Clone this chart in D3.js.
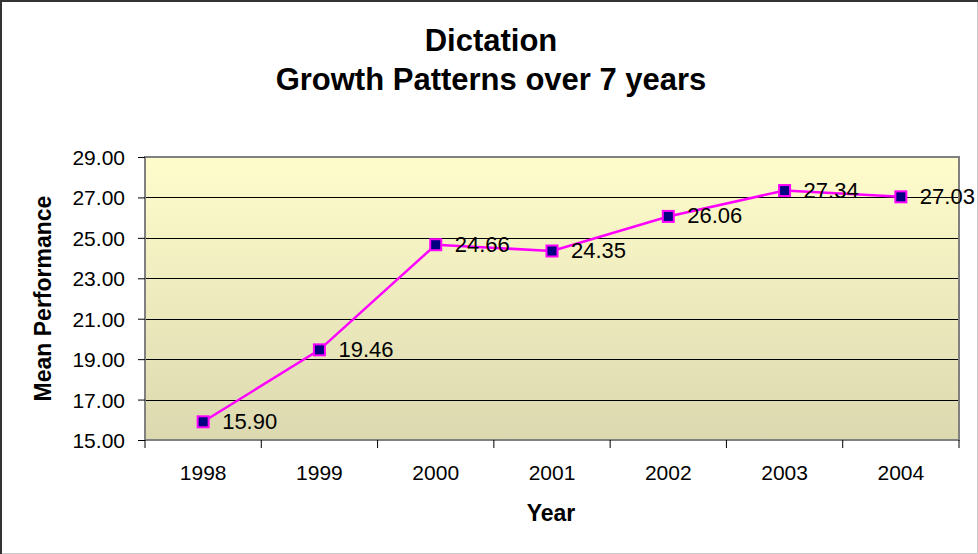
<!DOCTYPE html>
<html>
<head>
<meta charset="utf-8">
<script src="https://cdn.jsdelivr.net/npm/d3@7/dist/d3.min.js"></script>
<style>
  html, body { margin: 0; padding: 0; background: #fff; }
  svg { display: block; font-family: Arial, "Liberation Sans", sans-serif; }
</style>
</head>
<body>
<svg id="chart" width="978" height="554"></svg>
<script>
// Mean dictation performance by year
const years = ["1998", "1999", "2000", "2001", "2002", "2003", "2004"];
const means = [15.90, 19.46, 24.66, 24.35, 26.06, 27.34, 27.03];
const yTicks = [15, 17, 19, 21, 23, 25, 27, 29];
const titleLines = ["Dictation", "Growth Patterns over 7 years"];

const svg = d3.select("#chart");
const W = 978, H = 554;
const plot = { left: 145, top: 157, right: 959, bottom: 440 };
const FONT = "Arial, 'Liberation Sans', sans-serif";

// outer frame
svg.append("rect").attr("x", 0.5).attr("y", 0.5).attr("width", W - 1).attr("height", H - 1)
  .attr("fill", "#fff").attr("stroke", "#c8c8c8").attr("stroke-width", 1);
svg.append("path").attr("d", `M1,${H} V1 H${W}`)
  .attr("fill", "none").attr("stroke", "#333").attr("stroke-width", 2);

// plot background gradient
const defs = svg.append("defs");
const grad = defs.append("linearGradient").attr("id", "bg").attr("x1", 0).attr("y1", 0).attr("x2", 0).attr("y2", 1);
grad.append("stop").attr("offset", "0%").attr("stop-color", "#fffccc");
grad.append("stop").attr("offset", "100%").attr("stop-color", "#dcd9b0");

const x = d3.scaleBand().domain(years).range([plot.left, plot.right]).paddingInner(0).paddingOuter(0);
const y = d3.scaleLinear().domain([15, 29]).range([plot.bottom, plot.top]);

svg.append("rect").attr("x", plot.left).attr("y", plot.top)
  .attr("width", plot.right - plot.left).attr("height", plot.bottom - plot.top)
  .attr("fill", "url(#bg)");

// horizontal gridlines
svg.append("g").selectAll("line").data(yTicks.filter(t => t > 15 && t < 29)).join("line")
  .attr("x1", plot.left).attr("x2", plot.right)
  .attr("y1", d => Math.round(y(d)) + 0.5).attr("y2", d => Math.round(y(d)) + 0.5)
  .attr("stroke", "#000").attr("stroke-width", 1);

// plot border
svg.append("rect").attr("x", plot.left).attr("y", plot.top)
  .attr("width", plot.right - plot.left).attr("height", plot.bottom - plot.top)
  .attr("fill", "none").attr("stroke", "#808080").attr("stroke-width", 2);

// y axis
const yAxis = d3.axisLeft(y).tickValues(yTicks).tickSize(7).tickPadding(13)
  .tickFormat(d3.format(".2f"));
const gy = svg.append("g").attr("transform", `translate(${plot.left},0)`).call(yAxis);
gy.select(".domain").remove();
gy.selectAll(".tick line").attr("stroke", "#000");
gy.selectAll(".tick text").attr("font-size", 21).attr("fill", "#000")
  .attr("font-family", FONT).attr("dy", "0.36em");

// x axis (ticks between categories)
const bounds = years.map(d => x(d)).concat([x(years[years.length - 1]) + x.bandwidth()]);
svg.append("g").selectAll("line").data(bounds).join("line")
  .attr("x1", d => d).attr("x2", d => d)
  .attr("y1", plot.bottom).attr("y2", plot.bottom + 8)
  .attr("stroke", "#000").attr("stroke-width", 1);
svg.append("g").selectAll("text").data(years).join("text")
  .attr("x", d => x(d) + x.bandwidth() / 2).attr("y", 480)
  .attr("text-anchor", "middle").attr("font-size", 21).attr("fill", "#000")
  .text(d => d);

// axis titles
svg.append("text").attr("x", 551).attr("y", 521).attr("text-anchor", "middle")
  .attr("font-size", 23).attr("font-weight", "bold").text("Year");
svg.append("text").attr("transform", `translate(51,${(plot.top + plot.bottom) / 2 + 0}) rotate(-90)`)
  .attr("text-anchor", "middle").attr("font-size", 23).attr("font-weight", "bold")
  .text("Mean Performance");

// chart title
svg.append("g").selectAll("text").data(titleLines).join("text")
  .attr("x", 491).attr("y", (d, i) => 51 + i * 39)
  .attr("text-anchor", "middle").attr("font-size", 31).attr("font-weight", "bold")
  .text(d => d);

// series line
const pts = years.map((d, i) => ({ year: d, v: means[i] }));
const cx = d => x(d.year) + x.bandwidth() / 2;
svg.append("path").datum(pts)
  .attr("d", d3.line().x(cx).y(d => y(d.v)))
  .attr("fill", "none").attr("stroke", "#ff00ff").attr("stroke-width", 2.5);

// markers
svg.append("g").selectAll("rect").data(pts).join("rect")
  .attr("x", d => cx(d) - 5.5).attr("y", d => y(d.v) - 5.5)
  .attr("width", 11).attr("height", 11)
  .attr("fill", "#000080").attr("stroke", "#ff00ff").attr("stroke-width", 2);

// data labels
svg.append("g").selectAll("text").data(pts).join("text")
  .attr("x", d => cx(d) + 19).attr("y", d => y(d.v) + 7)
  .attr("font-size", 22).attr("fill", "#000")
  .text(d => d.v.toFixed(2));
</script>
</body>
</html>
